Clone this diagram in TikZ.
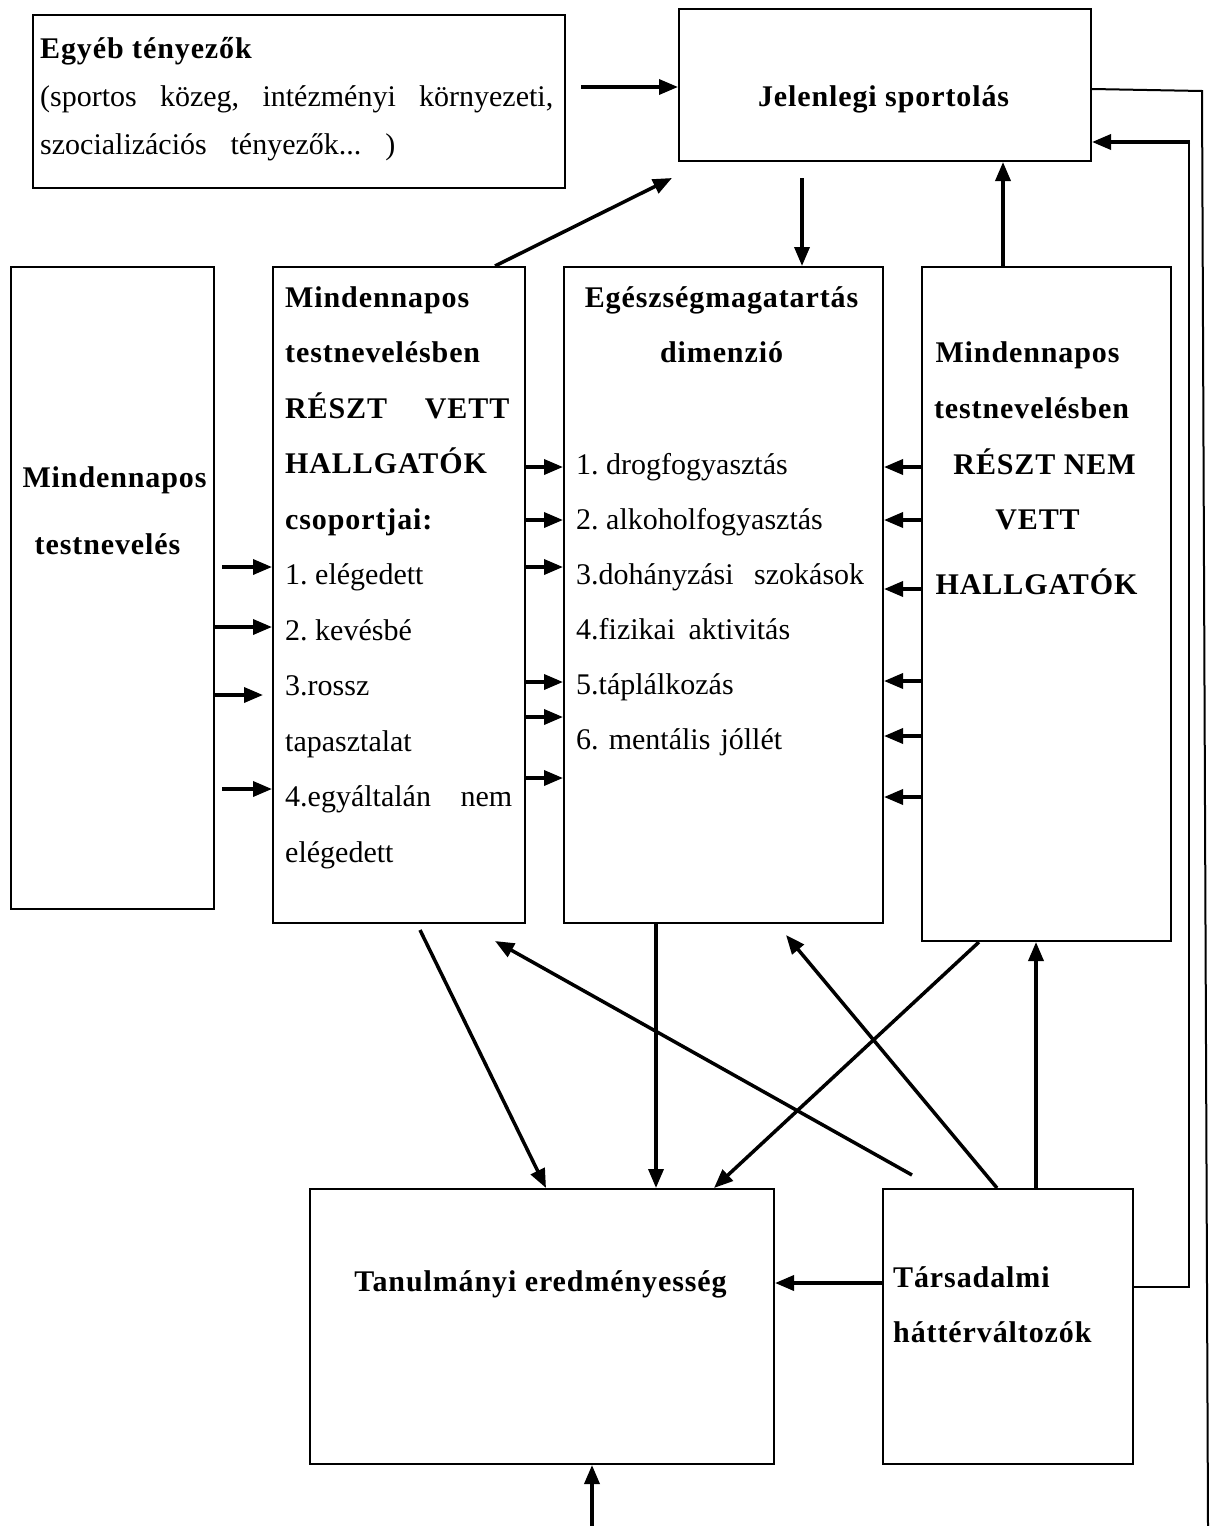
\documentclass[tikz,border=0pt]{standalone}
\usepackage{fontspec}
\setmainfont{Liberation Serif}[BoldFeatures={LetterSpace=3}]
\usetikzlibrary{arrows.meta}

\begin{document}
\frenchspacing
\begin{tikzpicture}[x=1pt, y=-1pt,
  box/.style={draw, line width=2pt, inner sep=0pt, anchor=north west},
  arr/.style={line width=3.5pt, -{Triangle[length=19pt,width=15pt]}},
  thin/.style={line width=2pt},
  txt/.style={anchor=base west, inner sep=0pt, font=\fontsize{30}{55}\selectfont},
  ctxt/.style={anchor=base, inner sep=0pt, font=\fontsize{30}{55}\selectfont},
]
\useasboundingbox[fill=white] (0,0) rectangle (1210,1526);

% boxes
\node[box, minimum width=532pt, minimum height=173pt] (egyeb) at (32,14) {};
\node[box, minimum width=412pt, minimum height=152pt] (jelen) at (678,8) {};
\node[box, minimum width=203pt, minimum height=642pt] (mtn) at (10,266) {};
\node[box, minimum width=252pt, minimum height=656pt] (reszt) at (272,266) {};
\node[box, minimum width=319pt, minimum height=656pt] (eg) at (563,266) {};
\node[box, minimum width=249pt, minimum height=674pt] (nem) at (921,266) {};
\node[box, minimum width=464pt, minimum height=275pt] (tan) at (309,1188) {};
\node[box, minimum width=250pt, minimum height=275pt] (tars) at (882,1188) {};

% texts: other factors
\node[txt] (e1) at (40,58) {\textbf{Egyéb tényezők}};
\node[txt] (e2) at (40,106) {\makebox[513pt][s]{(sportos közeg, intézményi környezeti,}};
\node[txt] (e3) at (40,154) {\makebox[355pt][s]{szocializációs tényezők... )}};

% current sport activity
\node[ctxt] (j1) at (884,106) {\textbf{Jelenlegi sportolás}};

% daily PE
\node[ctxt] (m1) at (115,487) {\textbf{Mindennapos}};
\node[ctxt] (m2) at (108,554) {\textbf{testnevelés}};

% participants
\node[txt] (r0) at (285,307) {\textbf{Mindennapos}};
\node[txt] (r1) at (285,362.5) {\textbf{testnevelésben}};
\node[txt] (r2) at (285,418) {\makebox[225pt][s]{\textbf{RÉSZT VETT}}};
\node[txt] (r3) at (285,473.5) {\textbf{HALLGATÓK}};
\node[txt] (r4) at (285,529) {\textbf{csoportjai:}};
\node[txt] (r5) at (285,584.5) {1. elégedett};
\node[txt] (r6) at (285,640) {2. kevésbé};
\node[txt] (r7) at (285,695.5) {3.rossz};
\node[txt] (r8) at (285,751) {tapasztalat};
\node[txt] (r9) at (285,806.5) {\makebox[227pt][s]{4.egyáltalán nem}};
\node[txt] (r10) at (285,862) {elégedett};

% health behaviour
\node[ctxt] (g0) at (722,307) {\textbf{Egészségmagatartás}};
\node[ctxt] (g1) at (722,362) {\textbf{dimenzió}};
\node[txt] (g2) at (576,474) {1. drogfogyasztás};
\node[txt] (g3) at (576,529) {2. alkoholfogyasztás};
\node[txt] (g4) at (576,584) {\makebox[288pt][s]{3.dohányzási szokások}};
\node[txt] (g5) at (576,639) {\makebox[214pt][s]{4.fizikai aktivitás}};
\node[txt] (g6) at (576,694) {5.táplálkozás};
\node[txt] (g7) at (576,749) {\makebox[206pt][s]{6. mentális jóllét}};

% non-participants
\node[ctxt] (n0) at (1028,362) {\textbf{Mindennapos}};
\node[ctxt] (n1) at (1032,418) {\textbf{testnevelésben}};
\node[ctxt] (n2) at (1045,474) {\textbf{RÉSZT NEM}};
\node[ctxt] (n3) at (1038,529) {\textbf{VETT}};
\node[ctxt] (n4) at (1037,594) {\textbf{HALLGATÓK}};

% outcomes
\node[ctxt] (a1) at (541,1291) {\textbf{Tanulmányi eredményesség}};
\node[txt] (s1) at (893,1287) {\textbf{Társadalmi}};
\node[txt] (s2) at (893,1342) {\textbf{háttérváltozók}};

% free ends
\coordinate (c-egy) at (581,87);
\coordinate (c-rtop) at (672,178);
\coordinate (c-jbot) at (802,178);
\coordinate (c-bot) at (592,1526);
\coordinate (c-r1) at (1202,91);
\coordinate (c-r2) at (1208,1526);
\coordinate (c-k1) at (1189,1287);
\coordinate (c-k2) at (1189,142);

% top connectors
\draw[arr] (c-egy) -- (jelen.west |- c-egy);
\draw[arr] (reszt.north -| 495,0) -- (c-rtop);
\draw[arr] (c-jbot) -- (eg.north -| c-jbot);
\draw[arr] (nem.north -| 1003,0) -- (jelen.south -| 1003,0);

% feedback lines on the right
\draw[thin] (jelen.east |- 0,89) -- (c-r1) -- (c-r2);
\draw[thin] (tars.east |- c-k1) -- (c-k1) -- (c-k2);
\draw[arr] ([xshift=1pt]c-k2) -- (jelen.east |- c-k2);

% daily PE to groups
\draw[arr] (222,567) -- (reszt.west |- 0,567);
\draw[arr] (mtn.east |- 0,627) -- (reszt.west |- 0,627);
\draw[arr] (mtn.east |- 0,695) -- (263,695);
\draw[arr] (222,789) -- (reszt.west |- 0,789);

% groups to health behaviour
\foreach \yy in {467,520,567,682,717,778}
  \draw[arr] (reszt.east |- 0,\yy) -- (eg.west |- 0,\yy);

% non-participants to health behaviour
\foreach \yy in {467,520,589,681,736,797}
  \draw[arr] (nem.west |- 0,\yy) -- (eg.east |- 0,\yy);

% lower connectors
\draw[arr] (420,930) -- (tan.north -| 546,0);
\draw[arr] (eg.south -| 656,0) -- (tan.north -| 656,0);
\draw[arr] (nem.south -| 979,0) -- (tan.north -| 714,0);
\draw[arr] (912,1175) -- (495,941);
\draw[arr] (tars.north -| 997,0) -- (786,935);
\draw[arr] (tars.north -| 1036,0) -- (nem.south -| 1036,0);
\draw[arr] (tars.west |- 0,1283) -- (tan.east |- 0,1283);
\draw[arr] (c-bot) -- (tan.south -| c-bot);
\end{tikzpicture}
\end{document}
